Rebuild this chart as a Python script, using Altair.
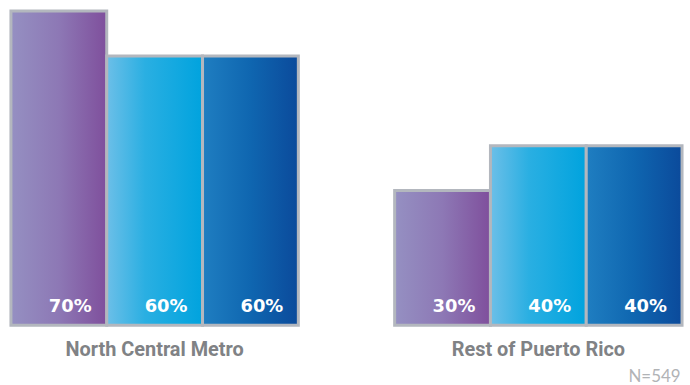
import altair as alt
import pandas as pd

groups = ["North Central Metro", "Rest of Puerto Rico"]
series = ["Series 1", "Series 2", "Series 3"]
values_ncm = [70, 60, 60]
values_rpr = [30, 40, 40]
labels_ncm = ["70%", "60%", "60%"]
labels_rpr = ["30%", "40%", "40%"]

rows = []
for s, v, l in zip(series, values_ncm, labels_ncm):
    rows.append({"group": groups[0], "series": s, "value": v, "label": l})
for s, v, l in zip(series, values_rpr, labels_rpr):
    rows.append({"group": groups[1], "series": s, "value": v, "label": l})
df = pd.DataFrame(rows)

gradients = {
    "Series 1": [("#9590C2", 0.0), ("#8D78B5", 0.5), ("#7F4F9C", 1.0)],
    "Series 2": [("#6CBFE8", 0.0), ("#2AAFE2", 0.4), ("#00A3DE", 1.0)],
    "Series 3": [("#1F7EC1", 0.0), ("#0F66B0", 0.5), ("#0B4A9B", 1.0)],
}

x_enc = alt.X("group:N", sort=groups,
              scale=alt.Scale(paddingInner=0.251, paddingOuter=0),
              axis=alt.Axis(title=None, ticks=False, domain=False, labelAngle=0,
                            labelFontSize=20, labelLimit=0,
                            labelFont="Roboto",
                            labelFontWeight="bold", labelColor="#808285",
                            labelPadding=14))
xo_enc = alt.XOffset("series:N", scale=alt.Scale(domain=series, paddingInner=0, paddingOuter=0))
y_enc = alt.Y("value:Q", scale=alt.Scale(domain=[0, 70], nice=False, zero=True), axis=None)

layers = []
for s in series:
    stops = [alt.GradientStop(color=c, offset=o) for c, o in gradients[s]]
    layers.append(
        alt.Chart(df).transform_filter(alt.datum.series == s).mark_bar(
            color=alt.Gradient(gradient="linear", stops=stops, x1=0, x2=1, y1=0, y2=0),
            stroke="#B3B7BE", strokeWidth=3, opacity=1
        ).encode(x=x_enc, xOffset=xo_enc, y=y_enc)
    )

text = alt.Chart(df).mark_text(
    align="right", baseline="alphabetic", dx=33, dy=-13,
    font="DejaVu Sans", fontWeight="bold", fontSize=18, color="white"
).encode(x=x_enc, xOffset=xo_enc, y=alt.datum(0), text="label:N")

chart = alt.layer(*layers, text).properties(
    width=675, height=316,
    padding={"left": 9, "top": 8, "right": 6, "bottom": 2},
    title=alt.TitleParams("N=549", orient="bottom", anchor="end", fontSize=17,
                          font="Lato", fontWeight="normal", color="#B1B3B6",
                          offset=10, dx=-3)
).configure(background="white", view=alt.ViewConfig(stroke=None))

chart.save("out.html", embed_options={"renderer": "svg", "actions": False})
